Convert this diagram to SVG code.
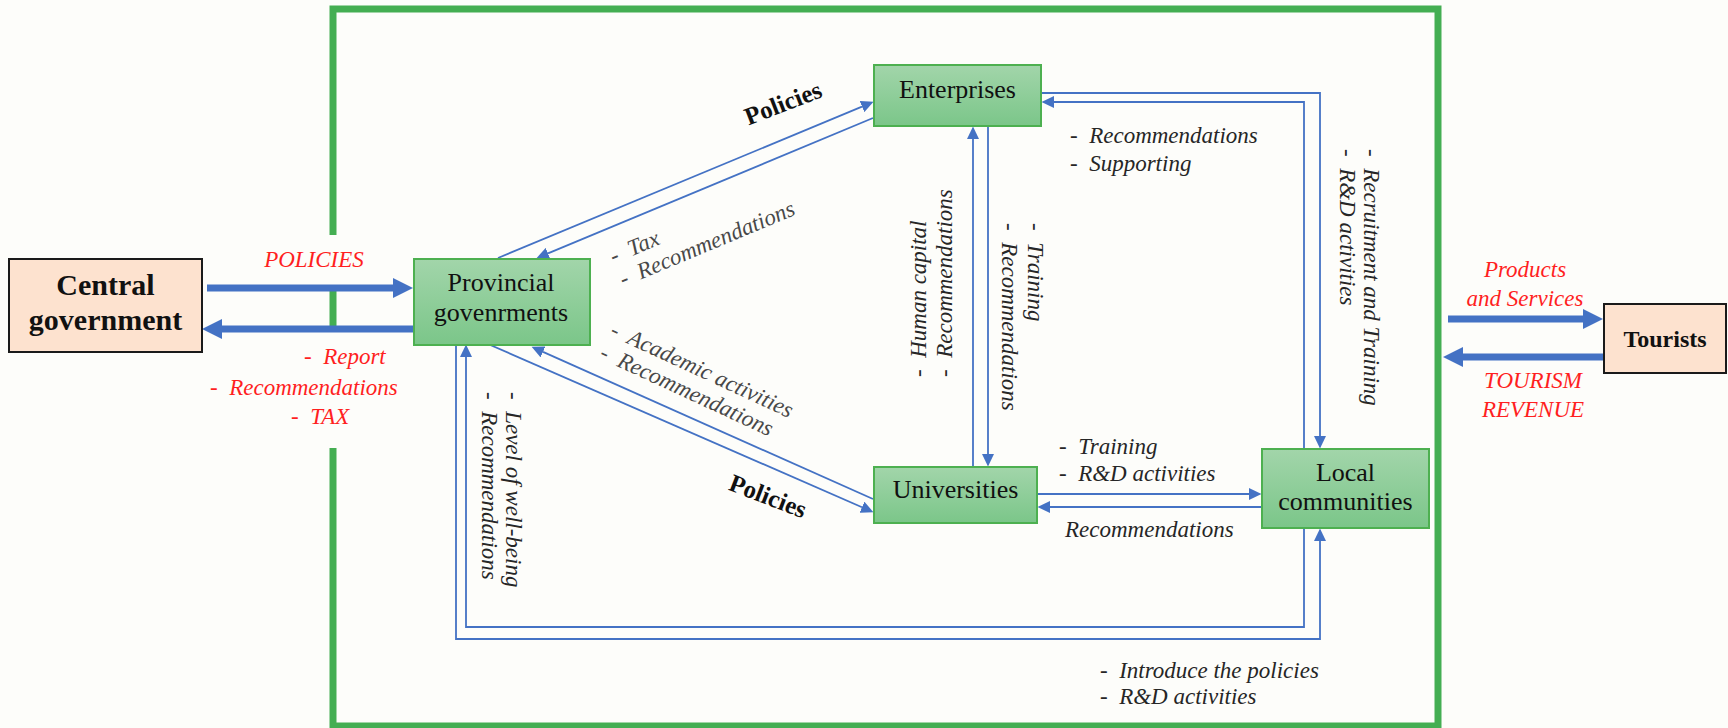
<svg xmlns="http://www.w3.org/2000/svg" width="1728" height="728" viewBox="0 0 1728 728" xml:space="preserve">
<defs>
<linearGradient id="gg" x1="0" y1="0" x2="0" y2="1"><stop offset="0" stop-color="#a2d5aa"/><stop offset="1" stop-color="#7bc689"/></linearGradient>
<marker id="ah" markerUnits="userSpaceOnUse" markerWidth="13" markerHeight="12" refX="0" refY="6" orient="auto"><path d="M0,0 L12.5,6 L0,12 z" fill="#4472c4"/></marker>
<marker id="ahb" markerUnits="userSpaceOnUse" markerWidth="21" markerHeight="20" refX="0" refY="10" orient="auto"><path d="M0,0 L20,10 L0,20 z" fill="#4472c4"/></marker>
<style>
.bg{fill:#fdfdfa}
.frame{fill:none;stroke:#44ae52;stroke-width:7}
.gbox{fill:url(#gg);stroke:#4db050;stroke-width:2}
.pbox{fill:#fde2cf;stroke:#1a1a1a;stroke-width:2}
.nt{font-family:"Liberation Serif",serif;font-size:26px;fill:#111;text-anchor:middle}
.bt{font-family:"Liberation Serif",serif;font-weight:bold;fill:#111;text-anchor:middle}
.lbl{font-family:"Liberation Serif",serif;font-style:italic;font-size:23px;fill:#262626;white-space:pre}
.gray{fill:#484848}
.red{fill:#ff1f1f}
.conn{fill:none;stroke:#4472c4;stroke-width:1.8}
.thick{fill:none;stroke:#4472c4;stroke-width:7}
</style>
</defs>
<rect class="bg" x="0" y="0" width="1728" height="728"/>
<rect class="frame" x="333" y="9" width="1105" height="717"/>
<rect class="bg" x="328" y="235" width="10" height="54"/>
<rect class="bg" x="328" y="328" width="10" height="120"/>
<g id="connectors">
<line class="thick" x1="207" y1="288" x2="393" y2="288" marker-end="url(#ahb)"/>
<line class="thick" x1="414" y1="329" x2="222" y2="329" marker-end="url(#ahb)"/>
<line class="thick" x1="1448" y1="319" x2="1583" y2="319" marker-end="url(#ahb)"/>
<line class="thick" x1="1604" y1="357" x2="1463" y2="357" marker-end="url(#ahb)"/>
<line class="conn" x1="498" y1="258" x2="862" y2="106.6" marker-end="url(#ah)"/>
<line class="conn" x1="873" y1="118" x2="548" y2="253.4" marker-end="url(#ah)"/>
<line class="conn" x1="488" y1="344" x2="862" y2="507.2" marker-end="url(#ah)"/>
<line class="conn" x1="873" y1="499" x2="543" y2="351.9" marker-end="url(#ah)"/>
<line class="conn" x1="973" y1="467" x2="973" y2="139" marker-end="url(#ah)"/>
<line class="conn" x1="988" y1="126" x2="988" y2="454" marker-end="url(#ah)"/>
<polyline class="conn" points="1041,93 1320,93 1320,436" marker-end="url(#ah)"/>
<polyline class="conn" points="1304,449 1304,102 1054,102" marker-end="url(#ah)"/>
<line class="conn" x1="1037" y1="494" x2="1249" y2="494" marker-end="url(#ah)"/>
<line class="conn" x1="1262" y1="507" x2="1050" y2="507" marker-end="url(#ah)"/>
<polyline class="conn" points="456,345 456,639 1320,639 1320,541" marker-end="url(#ah)"/>
<polyline class="conn" points="1304,528 1304,627 466,627 466,357" marker-end="url(#ah)"/>
</g>
<g id="central-government">
<rect class="pbox" x="9" y="259" width="193" height="93"/>
<text class="bt" x="105.5" y="295" font-size="30">Central</text>
<text class="bt" x="105.5" y="330" font-size="30">government</text>
</g>
<g id="provincial-governments">
<rect class="gbox" x="414" y="259" width="176" height="86"/>
<text class="nt" x="501" y="291">Provincial</text>
<text class="nt" x="501" y="321">govenrments</text>
</g>
<g id="enterprises">
<rect class="gbox" x="874" y="65" width="167" height="61"/>
<text class="nt" x="957.5" y="98">Enterprises</text>
</g>
<g id="universities">
<rect class="gbox" x="874" y="467" width="163" height="56"/>
<text class="nt" x="955.5" y="498">Universities</text>
</g>
<g id="local-communities">
<rect class="gbox" x="1262" y="449" width="167" height="79"/>
<text class="nt" x="1345.5" y="481">Local</text>
<text class="nt" x="1345.5" y="510">communities</text>
</g>
<g id="tourists">
<rect class="pbox" x="1604" y="304" width="122" height="69"/>
<text class="bt" x="1665" y="347" font-size="24">Tourists</text>
</g>
<g id="labels">
<text class="lbl red" x="314" y="267" font-size="24" text-anchor="middle">POLICIES</text>
<text class="lbl red" x="304" y="364">-  Report</text>
<text class="lbl red" x="210" y="395">-  Recommendations</text>
<text class="lbl red" x="291" y="424">-  TAX</text>
<text class="lbl red" x="1525" y="277" text-anchor="middle">Products</text>
<text class="lbl red" x="1525" y="306" text-anchor="middle">and Services</text>
<text class="lbl red" x="1533" y="388" text-anchor="middle">TOURISM</text>
<text class="lbl red" x="1533" y="417" text-anchor="middle">REVENUE</text>
<text class="bt" font-size="25" transform="translate(786,111) rotate(-21)" x="0" y="0">Policies</text>
<text class="bt" font-size="25" transform="translate(765,504) rotate(21)" x="0" y="0">Policies</text>
<g transform="translate(613.5,263.8) rotate(-22.7)">
<text class="lbl gray" x="0" y="0">-  Tax</text>
<text class="lbl gray" x="0" y="25">-  Recommendations</text>
</g>
<g transform="translate(609,335) rotate(24.8)">
<text class="lbl gray" x="0" y="0">-  Academic activities</text>
<text class="lbl gray" x="0" y="25">-  Recommendations</text>
</g>
<g transform="translate(506,392) rotate(90)">
<text class="lbl" x="0" y="0">-  Level of well-being</text>
<text class="lbl" x="0" y="24">-  Recommendations</text>
</g>
<g transform="translate(926,377) rotate(-90)">
<text class="lbl" x="0" y="0">-  Human capital</text>
<text class="lbl" x="0" y="26">-  Recommendations</text>
</g>
<g transform="translate(1028,223) rotate(90)">
<text class="lbl" x="0" y="0">-  Training</text>
<text class="lbl" x="0" y="26">-  Recommendations</text>
</g>
<g transform="translate(1364,149) rotate(90)">
<text class="lbl" x="0" y="0">-  Recruitment and Training</text>
<text class="lbl" x="0" y="24">-  R&amp;D activities</text>
</g>
<text class="lbl" x="1070" y="143">-  Recommendations</text>
<text class="lbl" x="1070" y="171">-  Supporting</text>
<text class="lbl" x="1059" y="454">-  Training</text>
<text class="lbl" x="1059" y="481">-  R&amp;D activities</text>
<text class="lbl" x="1065" y="537">Recommendations</text>
<text class="lbl" x="1100" y="678">-  Introduce the policies</text>
<text class="lbl" x="1100" y="704">-  R&amp;D activities</text>
</g>
</svg>
